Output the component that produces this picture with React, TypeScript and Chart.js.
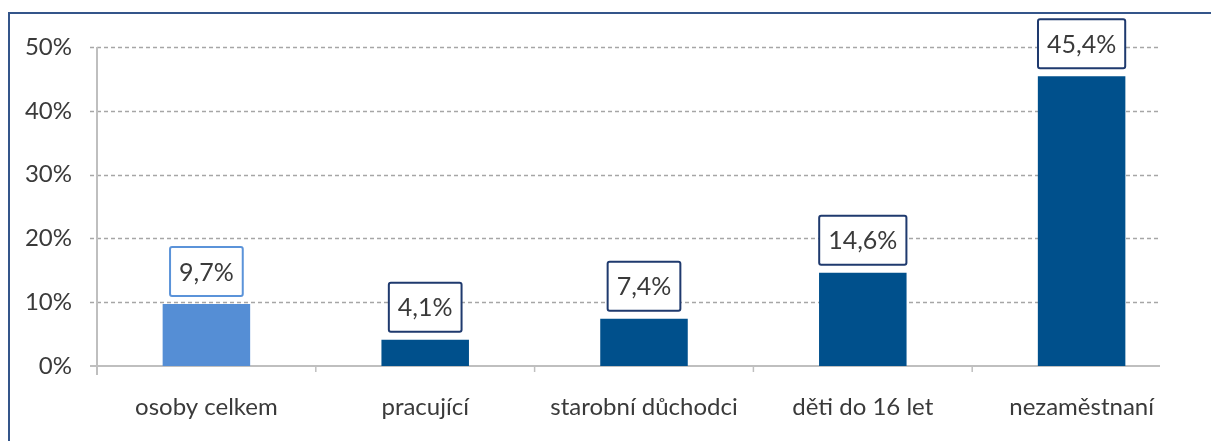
import React, { useEffect, useRef } from "react";
import { Chart, registerables } from "chart.js";

Chart.register(...registerables);

const categories = ["osoby celkem", "pracující", "starobní důchodci", "děti do 16 let", "nezaměstnaní"];
const values = [9.7, 4.1, 7.4, 14.6, 45.4];
const valueLabels = ["9,7%", "4,1%", "7,4%", "14,6%", "45,4%"];
const barColors = ["#558ED5", "#00508C", "#00508C", "#00508C", "#00508C"];
const boxBorderColors = ["#5B93D9", "#1F3A6E", "#1F3A6E", "#1F3A6E", "#1F3A6E"];
const yTicks = [0, 10, 20, 30, 40, 50];

const FONT = "Lato, 'Open Sans', sans-serif";
const TEXT_COLOR = "#3A3A3A";

const decorPlugin = {
  id: "decor",
  beforeDatasetsDraw(chart: any) {
    const { ctx, chartArea, scales } = chart;
    const y = scales.y;
    const lineRight = 1160;
    const lineLeft = chartArea.left - 7;
    ctx.save();
    // dashed grid lines
    ctx.strokeStyle = "#A6A6A6";
    ctx.lineWidth = 1.5;
    ctx.setLineDash([4, 3]);
    yTicks.forEach((t) => {
      if (t === 0) return;
      const py = Math.round(y.getPixelForValue(t)) + 0.5;
      ctx.beginPath();
      ctx.moveTo(lineLeft, py);
      ctx.lineTo(lineRight, py);
      ctx.stroke();
    });
    ctx.setLineDash([]);
    // axes
    ctx.strokeStyle = "#BFBFBF";
    ctx.lineWidth = 2;
    const y0 = y.getPixelForValue(0);
    ctx.beginPath();
    ctx.moveTo(lineLeft, y0);
    ctx.lineTo(lineRight, y0);
    ctx.stroke();
    ctx.beginPath();
    ctx.moveTo(chartArea.left, y.getPixelForValue(50));
    ctx.lineTo(chartArea.left, y0 + 9);
    ctx.stroke();
    // x tick marks between categories
    const x = scales.x;
    ctx.lineWidth = 1.5;
    for (let i = 1; i < categories.length; i++) {
      const px = (x.getPixelForValue(i - 1) + x.getPixelForValue(i)) / 2;
      ctx.beginPath();
      ctx.moveTo(px, y0);
      ctx.lineTo(px, y0 + 6);
      ctx.stroke();
    }
    ctx.restore();
  },
  afterDatasetsDraw(chart: any) {
    const { ctx } = chart;
    const meta = chart.getDatasetMeta(0);
    ctx.save();
    ctx.font = `25px ${FONT}`;
    ctx.textAlign = "center";
    ctx.textBaseline = "middle";
    meta.data.forEach((bar: any, i: number) => {
      const text = valueLabels[i];
      const tw = ctx.measureText(text).width;
      const w = tw + 18;
      const h = 49;
      const bottom = bar.y - 8;
      const left = bar.x - w / 2;
      const top = bottom - h;
      ctx.fillStyle = "#FFFFFF";
      ctx.strokeStyle = boxBorderColors[i];
      ctx.lineWidth = 2;
      ctx.beginPath();
      if ((ctx as any).roundRect) {
        (ctx as any).roundRect(left, top, w, h, 2);
      } else {
        ctx.rect(left, top, w, h);
      }
      ctx.fill();
      ctx.stroke();
      ctx.fillStyle = TEXT_COLOR;
      ctx.fillText(text, bar.x, top + h / 2 + 1);
    });
    ctx.restore();
  },
};

export default function App() {
  const canvasRef = useRef<HTMLCanvasElement | null>(null);

  useEffect(() => {
    if (!canvasRef.current) return;
    const chart = new Chart(canvasRef.current, {
      type: "bar",
      data: {
        labels: categories,
        datasets: [
          {
            data: values,
            backgroundColor: barColors,
            borderWidth: 0,
            categoryPercentage: 1,
            barPercentage: 0.4,
          },
        ],
      },
      options: {
        animation: false,
        responsive: false,
        maintainAspectRatio: false,
        layout: { padding: { top: 47, right: 20, bottom: 0, left: 0 } },
        plugins: {
          legend: { display: false },
          tooltip: { enabled: false },
        },
        scales: {
          x: {
            grid: { display: false, drawTicks: false },
            border: { display: false },
            ticks: {
              font: { family: FONT, size: 24 },
              color: TEXT_COLOR,
              padding: 27,
              maxRotation: 0,
              autoSkip: false,
            },
            afterFit(scale: any) {
              scale.height = 75;
            },
          },
          y: {
            min: 0,
            max: 50,
            grid: { display: false, drawTicks: false },
            border: { display: false },
            afterBuildTicks(scale: any) {
              scale.ticks = yTicks.map((v) => ({ value: v }));
            },
            ticks: {
              font: { family: FONT, size: 24 },
              color: TEXT_COLOR,
              padding: 25,
              callback: (v: any) => `${v}%`,
            },
            afterFit(scale: any) {
              scale.width = 97;
            },
          },
        },
      },
      plugins: [decorPlugin],
    });
    return () => chart.destroy();
  }, []);

  return (
    <div style={{ position: "fixed", left: 0, top: 0, width: 1211, height: 441, overflow: "hidden", background: "#fff" }}>
      <div
        style={{
          position: "absolute",
          left: 8,
          top: 12,
          width: 1230,
          height: 460,
          borderLeft: "2px solid #34558A",
          borderTop: "2px solid #34558A",
        }}
      />
      <canvas ref={canvasRef} width={1211} height={441} style={{ position: "absolute", left: 0, top: 0 }} />
    </div>
  );
}
